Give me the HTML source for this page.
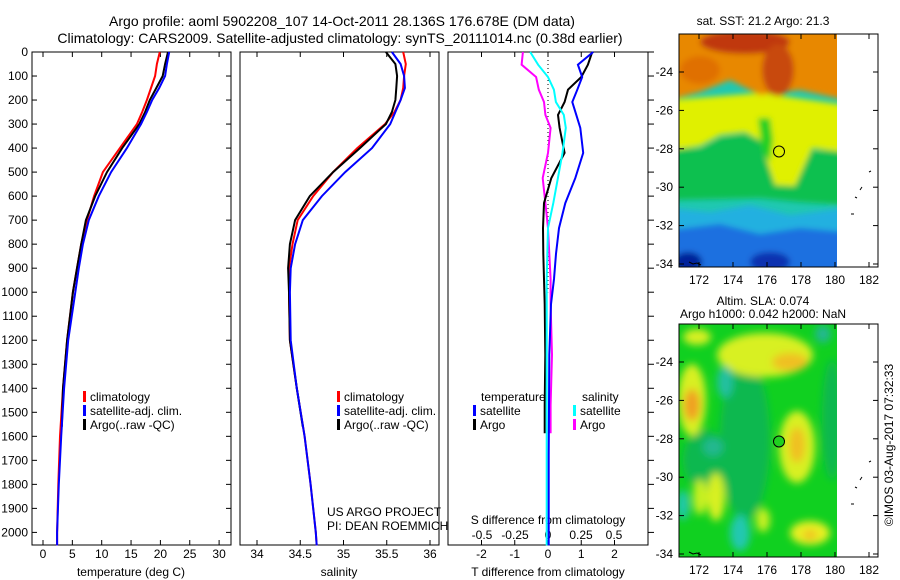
<!DOCTYPE html>
<html><head><meta charset="utf-8">
<style>
html,body{margin:0;padding:0;background:#fff;}
svg{display:block;font-family:"Liberation Sans",sans-serif;}
text{font-size:12px;fill:#000;}
</style></head>
<body>
<svg id="fig" width="900" height="580" viewBox="0 0 900 580" xmlns="http://www.w3.org/2000/svg">
<defs>
<filter id="bl" x="-10%" y="-10%" width="120%" height="120%"><feGaussianBlur stdDeviation="3"/></filter>
<filter id="bl2" x="-30%" y="-30%" width="160%" height="160%"><feGaussianBlur stdDeviation="4"/></filter>
<clipPath id="c1"><rect x="679" y="34" width="158" height="233"/></clipPath>
<clipPath id="c2"><rect x="679" y="324" width="158" height="233"/></clipPath>
</defs>
<text x="342" y="26" text-anchor="middle" style="font-size:14px">Argo profile: aoml 5902208_107 14-Oct-2011 28.136S 176.678E (DM data)</text>
<text x="340" y="43" text-anchor="middle" style="font-size:14px">Climatology: CARS2009. Satellite-adjusted climatology: synTS_20111014.nc (0.38d earlier)</text>

<g id="panels"></g>

<!-- SST map -->
<g>
<text x="763" y="25" text-anchor="middle">sat. SST: 21.2 Argo: 21.3</text>
<g clip-path="url(#c1)">
<rect x="679" y="34" width="158" height="233" fill="#20c8b0"/>
<g filter="url(#bl)">
<polygon points="670,228 720,222 760,232 800,226 845,230 845,275 670,275" fill="#1a70e0"/>
<polygon points="670,208 710,212 750,205 790,215 845,208 845,232 800,228 760,234 720,224 670,230" fill="#20b0e0"/>
<ellipse cx="770" cy="262" rx="20" ry="10" fill="#0a30b0"/>
<ellipse cx="688" cy="262" rx="14" ry="10" fill="#00209a"/>
<polygon points="670,148 700,148 720,137 745,133 760,140 775,180 792,186 810,150 845,150 845,205 800,202 760,198 670,200" fill="#10c050"/>
<polygon points="670,100 760,93 845,105 845,152 812,148 795,186 775,185 760,140 745,132 720,135 700,146 670,150" fill="#e0f000"/>
<polygon points="758,118 770,118 773,140 770,162 762,150" fill="#20d020"/>
<polygon points="670,100 700,92 730,80 760,95 800,90 845,100 845,20 670,20" fill="#e88800"/>
<ellipse cx="745" cy="42" rx="45" ry="12" fill="#c03808"/>
<ellipse cx="778" cy="70" rx="16" ry="26" fill="#c84808"/>
<ellipse cx="700" cy="70" rx="20" ry="14" fill="#e07000"/>
</g>
</g>
<rect x="679" y="34" width="199" height="233" fill="none" stroke="#000"/>
<circle cx="779" cy="151.5" r="5.5" fill="none" stroke="#000"/>
<g id="map1axes"></g>
</g>

<!-- SLA map -->
<g>
<text x="763" y="305" text-anchor="middle">Altim. SLA: 0.074</text>
<text x="763" y="318" text-anchor="middle">Argo h1000: 0.042 h2000: NaN</text>
<g clip-path="url(#c2)">
<rect x="679" y="324" width="158" height="233" fill="#10d020"/>
<g filter="url(#bl2)">
<ellipse cx="745" cy="440" rx="25" ry="80" fill="#10b850"/>
<ellipse cx="705" cy="460" rx="22" ry="30" fill="#10b850"/>
<ellipse cx="832" cy="420" rx="10" ry="60" fill="#10b850"/>
<ellipse cx="692" cy="400" rx="14" ry="36" fill="#d8f020"/>
<ellipse cx="692" cy="405" rx="8" ry="16" fill="#f0a020"/>
<ellipse cx="765" cy="355" rx="48" ry="22" fill="#d8f020"/>
<ellipse cx="790" cy="362" rx="18" ry="9" fill="#f0c020"/>
<ellipse cx="697" cy="337" rx="14" ry="8" fill="#d8f020"/>
<ellipse cx="725" cy="382" rx="8" ry="16" fill="#20c0a0"/>
<ellipse cx="713" cy="447" rx="10" ry="9" fill="#20b890"/>
<ellipse cx="823" cy="334" rx="8" ry="9" fill="#20b890"/>
<ellipse cx="797" cy="447" rx="18" ry="36" fill="#d8f020"/>
<ellipse cx="797" cy="445" rx="8" ry="18" fill="#f0c020"/>
<ellipse cx="716" cy="497" rx="9" ry="24" fill="#d8f020"/>
<ellipse cx="700" cy="497" rx="7" ry="18" fill="#c8f020"/>
<ellipse cx="740" cy="533" rx="10" ry="18" fill="#20c8b0"/>
<ellipse cx="683" cy="505" rx="6" ry="15" fill="#20c8b0"/>
<ellipse cx="810" cy="533" rx="20" ry="12" fill="#e8f020"/>
<ellipse cx="810" cy="535" rx="7" ry="5" fill="#f0c020"/>
<ellipse cx="763" cy="520" rx="7" ry="12" fill="#c8f020"/>
</g>
</g>
<rect x="679" y="324" width="199" height="233" fill="none" stroke="#000"/>
<circle cx="779" cy="441.5" r="5.5" fill="#20d020" stroke="#000"/>
<g id="map2axes"></g>
</g>
<text transform="translate(893,445) rotate(-90)" text-anchor="middle">©IMOS 03-Aug-2017 07:32:33</text>
</svg>
<script>
// ---- data ----
const depthClim = [0,50,100,150,200,250,300,400,500,600,700,800,900,1000,1200,1400,1600,1800,2000,2054];
const depthArgo = [0,50,100,150,200,250,300,400,500,600,700,800,900,1000,1200,1400,1560];
const tClim = [19.9,19.4,19.1,18.4,17.7,16.9,16.0,13.1,10.2,8.7,7.5,6.5,5.8,5.1,4.1,3.4,2.9,2.6,2.4,2.4];
const tSat  = [21.5,21.1,20.8,19.8,18.6,17.7,16.7,14.3,11.6,9.5,7.8,6.8,6.1,5.5,4.3,3.6,3.1,2.7,2.4,2.4];
const tArgo = [21.3,20.8,20.4,19.3,18.2,17.4,16.4,13.5,10.9,8.9,7.3,6.5,5.8,5.1,4.1,3.4,3.2];
const sClim = [35.69,35.72,35.70,35.69,35.66,35.59,35.48,35.16,34.88,34.65,34.47,34.41,34.37,34.37,34.38,34.46,34.55,34.62,34.68,34.69];
const sSat  = [35.56,35.66,35.70,35.71,35.66,35.60,35.54,35.33,35.02,34.75,34.53,34.44,34.39,34.38,34.39,34.46,34.55,34.62,34.68,34.69];
const sArgo = [35.49,35.60,35.62,35.61,35.60,35.56,35.49,35.19,34.88,34.61,34.44,34.38,34.36,34.37,34.38,34.46,34.53];
const depthDiff = [0,53,104,157,208,262,316,420,525,629,733,840,945,1050,1260,1470,1680,1890,2054];
const depthDiffArgo = [0,53,104,157,208,262,316,420,525,629,733,840,945,1050,1260,1470,1587];
const dtSat  = [1.36,0.9,1.03,0.88,0.73,0.85,0.97,1.06,0.82,0.52,0.33,0.24,0.18,0.09,0.04,0.03,0.02,0.02,0.02];
const dsSat  = [-0.135,-0.075,0,0.045,0.06,0.12,0.135,0.11,0.075,0.04,0,-0.005,-0.01,-0.01,-0.01,-0.01,-0.01,-0.01,-0.01];
const dtArgo = [1.33,1.2,1.0,0.6,0.5,0.3,0.35,0.5,0.1,-0.12,-0.15,-0.14,-0.12,-0.1,-0.08,-0.1,-0.1];
const dsArgo = [-0.19,-0.2,-0.09,-0.07,-0.03,-0.02,0.02,0,-0.04,-0.02,0,0.01,0.02,0.02,0.03,0.02,0.02];
const depthTicks = [0,100,200,300,400,500,600,700,800,900,1000,1100,1200,1300,1400,1500,1600,1700,1800,1900,2000];
const tTicks = [0,5,10,15,20,25,30];
const sTicks = [34,34.5,35,35.5,36];
const dtTicks = [-2,-1,0,1,2];
const dsTicks = [-0.5,-0.25,0,0.25,0.5];
const dsTickLabels = ["-0.5","-0.25","0","0.25","0.5"];
const lonTicks = [172,174,176,178,180,182];
const latTicks = [-24,-26,-28,-30,-32,-34];

// ---- axes ----
const NS='http://www.w3.org/2000/svg';
const TOP=52, BOT=545;
const yD = d => TOP + d*0.2402;
const xT = v => 43 + v*5.87;
const xS = v => 257 + (v-34)*86.5;
const xDT = v => 548 + v*33.25;
const xDS = v => 548 + v*132;
const xLon = v => 699 + (v-172)*17;
const yLat = v => 72 + (-24-v)*19.2;
const root = document.getElementById('panels');
function mk(tag, attrs, parent){const e=document.createElementNS(NS,tag);for(const k in attrs)e.setAttribute(k,attrs[k]);(parent||root).appendChild(e);return e;}
function txt(x,y,s,anchor,parent){const t=mk('text',{x:x,y:y,'text-anchor':anchor||'middle'},parent);t.textContent=s;return t;}

function frame(x0,x1,name){
  const r=mk('rect',{x:x0,y:TOP,width:x1-x0,height:BOT-TOP,fill:'none',stroke:'#000','stroke-width':1});
  
  
}
frame(32,231,'temperature-panel');
frame(240,439,'salinity-panel');
frame(448,648,'difference-panel');

depthTicks.forEach(d=>{
  const y=yD(d);
  mk('line',{x1:32,x2:37,y1:y,y2:y,stroke:'#000'});
  mk('line',{x1:226,x2:231,y1:y,y2:y,stroke:'#000'});
  mk('line',{x1:648,x2:654,y1:y,y2:y,stroke:'#000'});
  const t=txt(28,y+4,String(d),'end');
  
  
});
function xticks(ticks,fx,labels,ylab){
  ticks.forEach((v,i)=>{const x=fx(v);
    mk('line',{x1:x,x2:x,y1:TOP,y2:TOP+5,stroke:'#000'});
    mk('line',{x1:x,x2:x,y1:BOT,y2:BOT-5,stroke:'#000'});
    const t=txt(x,ylab,labels?labels[i]:String(v));
    
    
  });
}
xticks(tTicks,xT,null,558);
xticks(sTicks,xS,null,558);
xticks(dtTicks,xDT,null,558);
dsTicks.forEach((v,i)=>{const t=txt(xDS(v),539,dsTickLabels[i]);
  
  });
let at;
at=txt(131,576,'temperature (deg C)');  
at=txt(339,576,'salinity');  
at=txt(548,576,'T difference from climatology');  
at=txt(548,524,'S difference from climatology');  
at=txt(327,516,'US ARGO PROJECT','start');  
at=txt(327,530,'PI: DEAN ROEMMICH','start');  

mk('line',{x1:xDT(0),x2:xDT(0),y1:TOP,y2:yD(1000),stroke:'#000','stroke-dasharray':'1,3'});

function series(xs,ds,fx,color,name){
  const pts=xs.map((v,i)=>fx(v).toFixed(1)+','+yD(ds[i]).toFixed(1)).join(' ');
  const p=mk('polyline',{points:pts,fill:'none',stroke:color,'stroke-width':2});
  
  
}
series(tClim,depthClim,xT,'#ff0000','temp-climatology-line');
series(tArgo,depthArgo,xT,'#000000','temp-argo-line');
series(tSat,depthClim,xT,'#0000ff','temp-satellite-line');
series(sClim,depthClim,xS,'#ff0000','sal-climatology-line');
series(sArgo,depthArgo,xS,'#000000','sal-argo-line');
series(sSat,depthClim,xS,'#0000ff','sal-satellite-line');
series(dsArgo,depthDiffArgo,xDS,'#ff00ff','sdiff-argo-line');
series(dtArgo,depthDiffArgo,xDT,'#000000','tdiff-argo-line');
series(dsSat,depthDiff,xDS,'#00ffff','sdiff-satellite-line');
series(dtSat,depthDiff,xDT,'#0000ff','tdiff-satellite-line');

function legend(x,y,color,label,name){
  mk('rect',{x:x,y:y-10,width:3,height:11,fill:color});
  const t=txt(x+7,y,label,'start');
  
  
}
legend(83,401,'#ff0000','climatology','legend-climatology');
legend(83,415,'#0000ff','satellite-adj. clim.','legend-satellite-adj');
legend(83,429,'#000000','Argo(..raw -QC)','legend-argo');
legend(337,401,'#ff0000','climatology','legend2-climatology');
legend(337,415,'#0000ff','satellite-adj. clim.','legend2-satellite-adj');
legend(337,429,'#000000','Argo(..raw -QC)','legend2-argo');
at=txt(481,401,'temperature','start');  
at=txt(582,401,'salinity','start');  
legend(473,415,'#0000ff','satellite','legend-t-satellite');
legend(473,429,'#000000','Argo','legend-t-argo');
legend(573,415,'#00ffff','satellite','legend-s-satellite');
legend(573,429,'#ff00ff','Argo','legend-s-argo');

function mapAxes(gid,dy){
  const g=document.getElementById(gid);
  lonTicks.forEach(v=>{const x=xLon(v);
    mk('line',{x1:x,x2:x,y1:34+dy,y2:39+dy,stroke:'#000'},g);
    mk('line',{x1:x,x2:x,y1:267+dy,y2:262+dy,stroke:'#000'},g);
    const t=txt(x,284+dy,String(v),'middle',g);
    
    
  });
  latTicks.forEach(v=>{const y=yLat(v)+dy;
    mk('line',{x1:679,x2:684,y1:y,y2:y,stroke:'#000'},g);
    mk('line',{x1:873,x2:878,y1:y,y2:y,stroke:'#000'},g);
    const t=txt(673,y+4,String(v),'end',g);
    
    
  });
  mk('path',{d:`M869 ${172+dy} l2 -1 M860 ${190+dy} l2 -3 M855 ${197+dy} l2 1 M851 ${214+dy} l3 0 M689 ${262+dy} l4 2 l4 -1 l4 2`,stroke:'#000',fill:'none'},g);
}
mapAxes('map1axes',0);
mapAxes('map2axes',290);
</script>
</body></html>
